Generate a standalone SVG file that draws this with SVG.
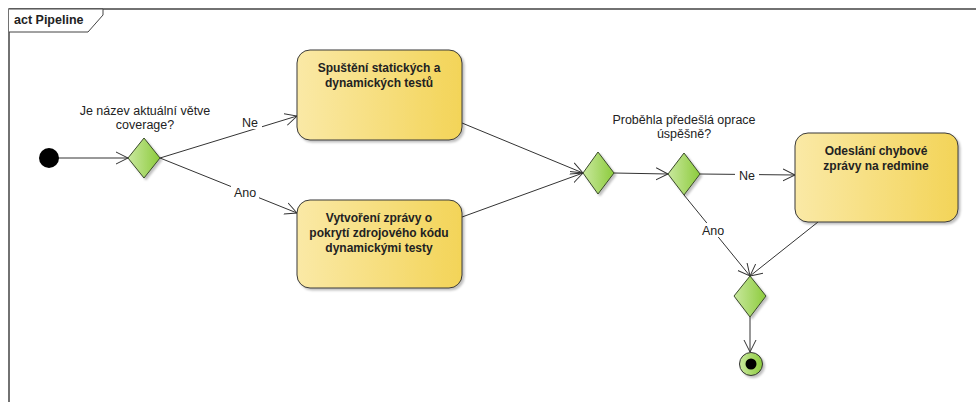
<svg xmlns="http://www.w3.org/2000/svg" width="976" height="402" viewBox="0 0 976 402">
<defs>
<linearGradient id="gy" x1="0" y1="0" x2="1" y2="0">
<stop offset="0" stop-color="#fae9a6"/>
<stop offset="1" stop-color="#f3d458"/>
</linearGradient>
<linearGradient id="gg" x1="0" y1="0" x2="1" y2="0">
<stop offset="0" stop-color="#c9e89e"/>
<stop offset="1" stop-color="#8ccb3c"/>
</linearGradient>
<filter id="sh" x="-10%" y="-10%" width="130%" height="130%">
<feDropShadow dx="2" dy="2" stdDeviation="1.2" flood-color="#000" flood-opacity="0.25"/>
</filter>
<marker id="ar" markerWidth="14" markerHeight="14" refX="12" refY="6" orient="auto" markerUnits="userSpaceOnUse" viewBox="0 0 14 12">
<path d="M0,0 L12,6 L0,12" fill="none" stroke="#333" stroke-width="1"/>
</marker>
</defs>
<style>
text{font-family:"Liberation Sans",Arial,sans-serif;font-size:12.5px;fill:#222}
.b{font-weight:bold;text-anchor:middle;font-size:12px}
.m{text-anchor:middle}
.act{fill:url(#gy);stroke:#3a3a3a;stroke-width:1;filter:url(#sh)}
.dia{fill:url(#gg);stroke:#3a4a2a;stroke-width:1;filter:url(#sh)}
.e{fill:none;stroke:#333;stroke-width:1}
.lb{fill:#fff}
</style>
<g id="frame">
<path d="M9,402 L9,9 L976,9" fill="none" stroke="#444" stroke-width="1.5"/>
<path d="M9,9 L103,9 L103,15 L88,32 L9,32" fill="#fff" stroke="#444" stroke-width="1"/>
<text x="14" y="24" font-weight="bold">act Pipeline</text>
</g>
<g id="connectors">
<line class="e" x1="58" y1="158" x2="128" y2="158" marker-end="url(#ar)"/>
<line class="e" x1="160" y1="158" x2="297" y2="116" marker-end="url(#ar)"/>
<line class="e" x1="160" y1="158" x2="297" y2="213" marker-end="url(#ar)"/>
<line class="e" x1="462" y1="123" x2="583" y2="173" marker-end="url(#ar)"/>
<line class="e" x1="462" y1="217" x2="583" y2="173" marker-end="url(#ar)"/>
<line class="e" x1="614" y1="173" x2="668" y2="174" marker-end="url(#ar)"/>
<line class="e" x1="700" y1="174" x2="795" y2="175" marker-end="url(#ar)"/>
<line class="e" x1="684" y1="195" x2="750" y2="276" marker-end="url(#ar)"/>
<line class="e" x1="818" y1="222" x2="750" y2="276" marker-end="url(#ar)"/>
<line class="e" x1="750" y1="317" x2="750" y2="352" marker-end="url(#ar)"/>
<rect class="lb" x="238" y="115" width="24" height="14"/>
<text x="250" y="127" class="m">Ne</text>
<rect class="lb" x="231" y="185" width="28" height="14"/>
<text x="245" y="197" class="m">Ano</text>
<rect class="lb" x="735" y="168" width="24" height="14"/>
<text x="747" y="180" class="m">Ne</text>
<rect class="lb" x="699" y="223" width="28" height="14"/>
<text x="713" y="235" class="m">Ano</text>
</g>
<g id="start">
<circle cx="49" cy="158" r="10" fill="#000"/>
</g>
<g id="decision1">
<polygon class="dia" points="144,138 160,158 144,178 128,158"/>
<text x="145" y="115" class="m">Je název aktuální větve</text>
<text x="145" y="129" class="m">coverage?</text>
</g>
<g id="action1">
<rect class="act" x="297" y="50" width="165" height="90" rx="13"/>
<text x="379" y="72" class="b">Spuštění statických a</text>
<text x="379" y="87" class="b">dynamických testů</text>
</g>
<g id="action2">
<rect class="act" x="297" y="200" width="165" height="88" rx="13"/>
<text x="379" y="222" class="b">Vytvoření zprávy o</text>
<text x="379" y="237" class="b">pokrytí zdrojového kódu</text>
<text x="379" y="252" class="b">dynamickými testy</text>
</g>
<g id="merge1">
<polygon class="dia" points="598,152 614,173 598,194 583,173"/>
</g>
<g id="decision2">
<polygon class="dia" points="684,153 700,174 684,195 668,174"/>
<text x="684" y="124" class="m">Proběhla předešlá oprace</text>
<text x="684" y="138" class="m">úspěšně?</text>
</g>
<g id="action3">
<rect class="act" x="795" y="133" width="163" height="89" rx="13"/>
<text x="876" y="155" class="b">Odeslání chybové</text>
<text x="876" y="170" class="b">zprávy na redmine</text>
</g>
<g id="merge2">
<polygon class="dia" points="750,276 766,296 750,317 734,296"/>
</g>
<g id="end">
<circle cx="751" cy="364" r="11.5" fill="url(#gg)" stroke="#333" stroke-width="1" filter="url(#sh)"/>
<circle cx="751" cy="364" r="5.5" fill="#000"/>
</g>
</svg>
